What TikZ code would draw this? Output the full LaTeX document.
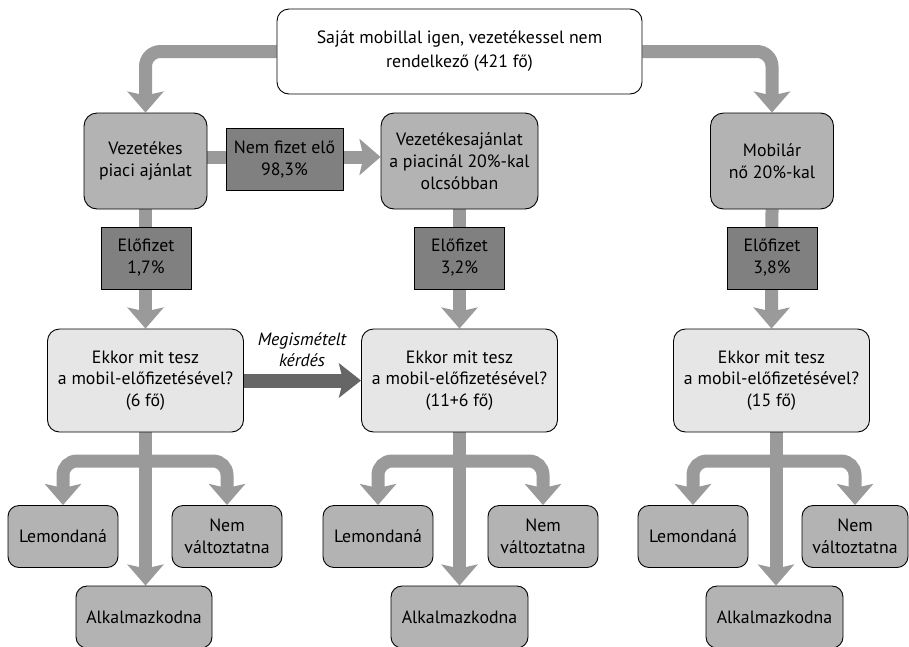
\documentclass[tikz,border=0pt]{standalone}
\usepackage{fontspec}
\setmainfont{PT Sans}
\usetikzlibrary{arrows.meta}
\pgfdeclarelayer{background}
\pgfsetlayers{background,main}
\definecolor{boxgray}{HTML}{B3B3B3}
\definecolor{darkbox}{HTML}{808080}
\definecolor{lightbox}{HTML}{E6E6E6}
\definecolor{arrowgray}{HTML}{9A9A9A}
\definecolor{arrowdark}{HTML}{666666}
\tikzset{
  base/.style={draw=black, line width=0.9pt, align=center, inner sep=0pt,
    font=\fontsize{17.8}{22}\selectfont},
  topbox/.style={base, fill=white, rounded corners=12pt, minimum width=365pt, minimum height=85pt,
    font=\fontsize{17.8}{24}\selectfont},
  offerbox/.style={base, fill=boxgray, rounded corners=13pt, minimum height=96pt},
  ratebox/.style={base, fill=darkbox, minimum width=90pt, minimum height=62pt},
  askbox/.style={base, fill=lightbox, rounded corners=12pt, minimum width=196pt, minimum height=103pt,
    font=\fontsize{17.8}{21.5}\selectfont},
  outbox/.style={base, fill=boxgray, rounded corners=11pt, minimum width=110pt, minimum height=62pt},
  flow/.style={draw=arrowgray, line width=13pt, rounded corners=15pt,
    -{Stealth[length=21pt,width=36pt,inset=4pt]}},
  darkflow/.style={draw=arrowdark, line width=14pt,
    -{Stealth[length=22pt,width=34pt,inset=4pt]}},
  lbl/.style={align=center, inner sep=0pt, font=\fontsize{17.8}{21}\selectfont\itshape}
}
\begin{document}
\begin{tikzpicture}[x=1pt,y=-1pt]
\useasboundingbox (0,0) rectangle (909,646);
% nodes
\node[topbox] (top) at (459.5,51.5) {Saját mobillal igen, vezetékessel nem\\rendelkező (421 fő)};
\node[offerbox, minimum width=123pt] (v1) at (145.5,161) {Vezetékes\\piaci ajánlat};
\node[offerbox, minimum width=157pt] (v2) at (459.5,161) {Vezetékesajánlat\\a piacinál 20\%-kal\\olcsóbban};
\node[offerbox, minimum width=123pt] (mob) at (772,161) {Mobilár\\nő 20\%-kal};
\node[ratebox, minimum width=117pt] (nf) at (284.5,159) {Nem fizet elő\\98,3\%};
\node[ratebox] (e1) at (146,258) {Előfizet\\1,7\%};
\node[ratebox] (e2) at (459.5,258) {Előfizet\\3,2\%};
\node[ratebox] (e3) at (772,258) {Előfizet\\3,8\%};
\node[askbox] (k1) at (145.5,380.5) {Ekkor mit tesz\\a mobil-előfizetésével?\\(6 fő)};
\node[askbox] (k2) at (459.5,380.5) {Ekkor mit tesz\\a mobil-előfizetésével?\\(11+6 fő)};
\node[askbox] (k3) at (771.5,380.5) {Ekkor mit tesz\\a mobil-előfizetésével?\\(15 fő)};
\node[lbl] (rep) at (302,349.5) {Megismételt\\kérdés};
\node[outbox] (L1) at (63,536.5) {Lemondaná};
\node[outbox] (N1) at (227,536.5) {Nem\\változtatna};
\node[outbox, minimum width=136pt] (A1) at (144,617) {Alkalmazkodna};
\node[outbox] (L2) at (378,536.5) {Lemondaná};
\node[outbox] (N2) at (543,536.5) {Nem\\változtatna};
\node[outbox, minimum width=137pt] (A2) at (459.5,617) {Alkalmazkodna};
\node[outbox] (L3) at (693,536.5) {Lemondaná};
\node[outbox, minimum width=106pt] (N3) at (855,536.5) {Nem\\változtatna};
\node[outbox, minimum width=137pt] (A3) at (774.5,617) {Alkalmazkodna};
\coordinate (b1) at (145.5,461);
\coordinate (b2) at (459.5,461);
\coordinate (b3) at (776,461);
\coordinate (t3) at (776,432);
% connectors
\begin{pgfonlayer}{background}
\fill[white] (0,0) rectangle (909,646);
\draw[flow] (top.west) -| (v1.north);
\draw[flow] (top.east) -| (mob.north);
\draw[flow] ([yshift=4pt]v1.east) -- ([yshift=4pt]v2.west);
\draw[flow] (v1.south) -- (k1.north);
\draw[flow] (v2.south) -- (k2.north);
\draw[flow] (mob.south) -- (k3.north);
\draw[darkflow] (k1.east) -- (k2.west);
\draw[flow] (k1.south) -- (k1.south |- A1.north);
\draw[flow, rounded corners=14pt] (b1) -| (L1.north);
\draw[flow, rounded corners=14pt] (b1) -| (N1.north);
\draw[flow] (k2.south) -- (k2.south |- A2.north);
\draw[flow, rounded corners=14pt] (b2) -| (L2.north);
\draw[flow, rounded corners=14pt] (b2) -| (N2.north);
\draw[flow] (t3) -- (t3 |- A3.north);
\draw[flow, rounded corners=14pt] (b3) -| (L3.north);
\draw[flow, rounded corners=14pt] (b3) -| (N3.north);
\end{pgfonlayer}
\end{tikzpicture}
\end{document}
